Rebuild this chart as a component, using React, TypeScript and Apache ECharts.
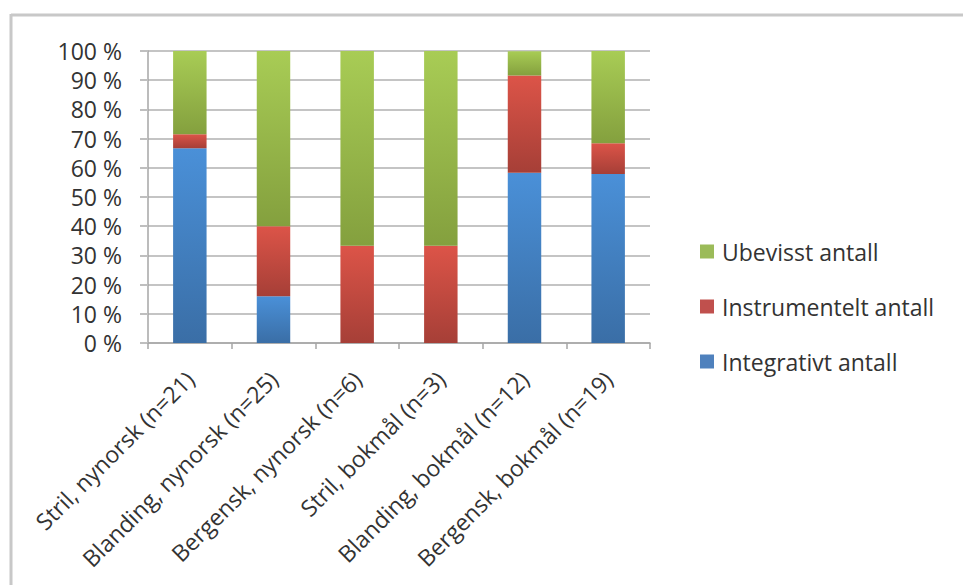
import React, { useEffect, useRef } from "react";
import * as echarts from "echarts";

const categories = [
  "Stril, nynorsk (n=21)",
  "Blanding, nynorsk (n=25)",
  "Bergensk, nynorsk (n=6)",
  "Stril, bokmål (n=3)",
  "Blanding, bokmål (n=12)",
  "Bergensk, bokmål (n=19)",
];
const integrativt = [66.7, 16, 0, 0, 58.3, 57.9];
const instrumentelt = [4.8, 24, 33.3, 33.3, 33.3, 10.5];
const ubevisst = [28.6, 60, 66.7, 66.7, 8.3, 31.6];
const seriesNames = ["Integrativt antall", "Instrumentelt antall", "Ubevisst antall"];

const grad = (top: string, bottom: string) =>
  new echarts.graphic.LinearGradient(0, 0, 0, 1, [
    { offset: 0, color: top },
    { offset: 1, color: bottom },
  ]);

const FONT = "Open Sans";

export default function App() {
  const ref = useRef<HTMLDivElement>(null);
  useEffect(() => {
    document.body.style.margin = "0";
    document.body.style.overflow = "hidden";
    if (!ref.current) return;
    const chart = echarts.init(ref.current, undefined, { renderer: "svg" });
    const mk = (name: string, data: number[], top: string, bottom: string) => ({
      name,
      type: "bar",
      stack: "total",
      data,
      barWidth: "40%",
      itemStyle: { color: grad(top, bottom) },
    });
    chart.setOption({
      animation: false,
      backgroundColor: "#ffffff",
      textStyle: { fontFamily: FONT },
      graphic: [
        {
          type: "line",
          shape: { x1: 11, y1: 15, x2: 970, y2: 15 },
          style: { stroke: "#c8c8c8", lineWidth: 3 },
          silent: true,
        },
        {
          type: "line",
          shape: { x1: 11, y1: 14, x2: 11, y2: 590 },
          style: { stroke: "#c8c8c8", lineWidth: 3 },
          silent: true,
        },
        {
          type: "rect",
          shape: { x: 945, y: 17, width: 30, height: 580 },
          style: { fill: "#ffffff" },
          silent: true,
          z: 100,
        },
      ],
      grid: { left: 148, top: 51, right: 313, bottom: 242, containLabel: false },
      legend: {
        orient: "vertical",
        left: 700,
        top: 240,
        padding: 0,
        itemGap: 32,
        itemWidth: 14,
        itemHeight: 14,
        icon: "rect",
        data: [
          { name: "Ubevisst antall", itemStyle: { color: "#9bbb59" } },
          { name: "Instrumentelt antall", itemStyle: { color: "#c0504d" } },
          { name: "Integrativt antall", itemStyle: { color: "#4f81bd" } },
        ],
        textStyle: {
          fontSize: 23,
          lineHeight: 23,
          color: "#333333",
          fontFamily: FONT,
          padding: [0, 0, 0, 3],
        },
      },
      xAxis: {
        type: "category",
        data: categories,
        axisLine: { lineStyle: { color: "#a6a6a6", width: 1.5 } },
        axisTick: { show: true, length: 6, lineStyle: { color: "#a6a6a6", width: 1.5 } },
        axisLabel: {
          rotate: 45,
          interval: 0,
          margin: 32,
          fontSize: 23,
          color: "#333333",
          fontFamily: FONT,
        },
      },
      yAxis: {
        type: "value",
        min: 0,
        max: 100,
        interval: 10,
        axisLine: { show: true, lineStyle: { color: "#a6a6a6", width: 1.5 } },
        axisTick: { show: true, length: 8, lineStyle: { color: "#bfbfbf", width: 2 } },
        splitLine: { lineStyle: { color: "#c4c4c4", width: 2 } },
        axisLabel: {
          margin: 26,
          fontSize: 23,
          color: "#333333",
          fontFamily: FONT,
          formatter: (v: number) => `${v} %`,
        },
      },
      series: [
        mk(seriesNames[0], integrativt, "#4a90d8", "#3a6ea6"),
        mk(seriesNames[1], instrumentelt, "#dc5448", "#a63f37"),
        mk(seriesNames[2], ubevisst, "#a8cc55", "#84a03e"),
      ],
    });
    return () => chart.dispose();
  }, []);
  return (
    <div
      ref={ref}
      style={{ position: "fixed", left: 0, top: 0, width: 963, height: 585 }}
    />
  );
}
